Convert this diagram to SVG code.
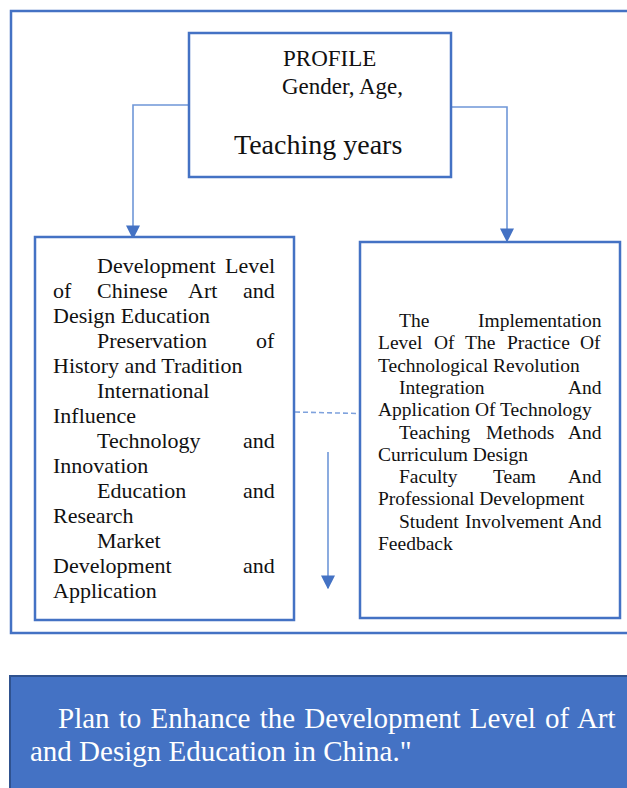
<svg xmlns="http://www.w3.org/2000/svg" width="627" height="788" viewBox="0 0 627 788">
  <defs>
    <style>
      .frame { fill: none; stroke: #4472C4; stroke-width: 2.5; }
      .box { fill: #FFFFFF; stroke: #4472C4; stroke-width: 2.5; }
      .link { fill: none; stroke: #6F97D8; stroke-width: 1.6; }
      .dash { fill: none; stroke: #7FA2DD; stroke-width: 1.6; stroke-dasharray: 5 3; }
      .t { font-family: "Liberation Serif", "Times New Roman", serif; fill: #111111; }
      .lt { font-size: 22px; }
      .rt { font-size: 19.5px; }
      .banner { fill: #4472C4; stroke: #2F528F; stroke-width: 2; }
      .bt { font-family: "Liberation Serif", "Times New Roman", serif; font-size: 29px; fill: #FFFFFF; }
    </style>
    <marker id="arrow" viewBox="0 0 10 10" refX="9" refY="5" markerWidth="14" markerHeight="14" markerUnits="userSpaceOnUse" orient="auto">
      <path d="M0,0 L10,5 L0,10 z" fill="#4472C4"/>
    </marker>
  </defs>

  <!-- outer frame -->
  <rect class="frame" x="11" y="11" width="630" height="622"/>

  <!-- connectors -->
  <g id="connectors">
    <polyline class="link" points="189,105 133,105 133,238" marker-end="url(#arrow)"/>
    <polyline class="link" points="451,107 507,107 507,241" marker-end="url(#arrow)"/>
    <line class="dash" x1="295" y1="412" x2="359" y2="413.5"/>
    <line class="link" x1="328" y1="452" x2="328" y2="588" marker-end="url(#arrow)"/>
  </g>

  <!-- profile node -->
  <g id="profile">
    <rect class="box" x="189" y="33" width="262" height="144"/>
    <text class="t" x="283" y="66" font-size="23">PROFILE</text>
    <text class="t" x="282" y="94" font-size="23">Gender, Age,</text>
    <text class="t" x="234" y="154" font-size="28">Teaching years</text>
  </g>

  <!-- art and design education level node -->
  <g id="development-level">
    <rect class="box" x="35" y="237" width="259" height="383"/>
    <text class="t lt" y="273"><tspan x="97">Development</tspan><tspan x="225">Level</tspan></text>
    <text class="t lt" y="298"><tspan x="53">of</tspan><tspan x="97">Chinese</tspan><tspan x="188">Art</tspan><tspan x="243">and</tspan></text>
    <text class="t lt" x="53" y="323">Design Education</text>
    <text class="t lt" y="348"><tspan x="97">Preservation</tspan><tspan x="256">of</tspan></text>
    <text class="t lt" x="53" y="373">History and Tradition</text>
    <text class="t lt" x="97" y="398">International</text>
    <text class="t lt" x="53" y="423">Influence</text>
    <text class="t lt" y="448"><tspan x="97">Technology</tspan><tspan x="243">and</tspan></text>
    <text class="t lt" x="53" y="473">Innovation</text>
    <text class="t lt" y="498"><tspan x="97">Education</tspan><tspan x="243">and</tspan></text>
    <text class="t lt" x="53" y="523">Research</text>
    <text class="t lt" x="97" y="548">Market</text>
    <text class="t lt" y="573"><tspan x="53">Development</tspan><tspan x="243">and</tspan></text>
    <text class="t lt" x="53" y="598">Application</text>
  </g>

  <!-- technological revolution practice node -->
  <g id="implementation-level">
    <rect class="box" x="360" y="242" width="260" height="376"/>
    <text class="t rt" y="327"><tspan x="399">The</tspan><tspan x="478">Implementation</tspan></text>
    <text class="t rt" y="349.3"><tspan x="378">Level</tspan><tspan x="434">Of</tspan><tspan x="465">The</tspan><tspan x="507">Practice</tspan><tspan x="580">Of</tspan></text>
    <text class="t rt" x="378" y="371.6">Technological Revolution</text>
    <text class="t rt" y="393.9"><tspan x="399">Integration</tspan><tspan x="568">And</tspan></text>
    <text class="t rt" x="378" y="416.2">Application Of Technology</text>
    <text class="t rt" y="438.5"><tspan x="399">Teaching</tspan><tspan x="486">Methods</tspan><tspan x="568">And</tspan></text>
    <text class="t rt" x="378" y="460.8">Curriculum Design</text>
    <text class="t rt" y="483.1"><tspan x="399">Faculty</tspan><tspan x="493">Team</tspan><tspan x="568">And</tspan></text>
    <text class="t rt" x="378" y="505.4">Professional Development</text>
    <text class="t rt" y="527.7"><tspan x="399">Student</tspan><tspan x="465">Involvement</tspan><tspan x="568">And</tspan></text>
    <text class="t rt" x="378" y="550">Feedback</text>
  </g>

  <!-- outcome banner -->
  <g id="plan">
    <rect class="banner" x="10" y="676" width="630" height="130"/>
    <text class="bt" x="58" y="728" word-spacing="2">Plan to Enhance the Development Level of Art</text>
    <text class="bt" x="30" y="761">and Design Education in China."</text>
  </g>
</svg>
